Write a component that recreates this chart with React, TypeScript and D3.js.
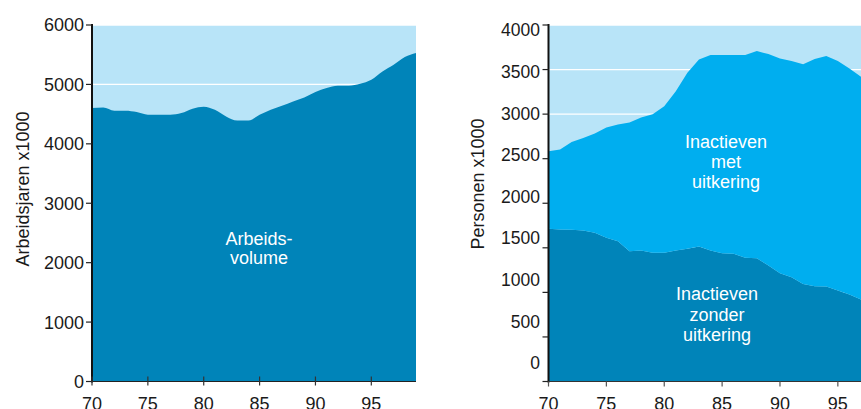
import React from "react";
import * as d3 from "d3";

const W = 861;
const H = 409;

// Left chart: arbeidsvolume (arbeidsjaren x1000), 1970-1999
const yearsLeft = d3.range(70, 100);
const arbeidsvolume = [
  4601, 4610, 4556, 4556, 4534, 4489, 4489, 4489, 4517, 4590,
  4624, 4573, 4461, 4393, 4393, 4489, 4573, 4640, 4713, 4781,
  4871, 4938, 4978, 4978, 5011, 5079, 5219, 5331, 5461, 5528,
];
const leftTicks = [0, 1000, 2000, 3000, 4000, 5000, 6000];
const leftXTicks = [70, 75, 80, 85, 90, 95];

// Right chart: inactieven (personen x1000), 1970-1997
const yearsRight = d3.range(70, 98);
const zonderUitkering = [
  1714, 1706, 1702, 1695, 1669, 1612, 1575, 1462, 1470, 1444,
  1444, 1470, 1489, 1515, 1470, 1440, 1433, 1388, 1384, 1302,
  1215, 1170, 1095, 1069, 1065, 1020, 975, 919,
];
const metUitkering = [
  869, 896, 986, 1038, 1113, 1237, 1308, 1444, 1492, 1556,
  1645, 1788, 1975, 2099, 2193, 2223, 2230, 2275, 2324, 2372,
  2410, 2425, 2466, 2549, 2586, 2575, 2538, 2500,
];
const rightTicks = [0, 500, 1000, 1500, 2000, 2500, 3000, 3500, 4000];
const rightXTicks = [70, 75, 80, 85, 90, 95];

const C_BG = "#b8e4f8";
const C_DARK = "#0084b9";
const C_MID = "#00aeef";
const FONT = "'Liberation Sans', Arial, Helvetica, sans-serif";

export default function App() {
  // Left chart scales
  const xL = d3.scaleLinear().domain([70, 99]).range([92, 416]);
  const yL = d3.scaleLinear().domain([0, 6000]).range([381.5, 25]);
  const areaL = d3
    .area<number>()
    .x((_, i) => xL(yearsLeft[i]))
    .y0(yL(0))
    .y1((d) => yL(d))
    .curve(d3.curveMonotoneX);

  // Right chart scales
  const xR = d3.scaleLinear().domain([70, 97]).range([548.5, 861]);
  const yR = d3.scaleLinear().domain([0, 4000]).range([381.5, 25]);
  const yRLabel = d3.scaleLinear().domain([0, 4000]).range([363, 30]);

  const rows = yearsRight.map((y, i) => ({
    year: y,
    zonder: zonderUitkering[i],
    met: metUitkering[i],
  }));
  const stacked = d3.stack<any>().keys(["zonder", "met"])(rows);
  const areaR = d3
    .area<any>()
    .x((d) => xR(d.data.year))
    .y0((d) => yR(d[0]))
    .y1((d) => yR(d[1]))
    .curve(d3.curveLinear);
  const stackColors = [C_DARK, C_MID];

  return (
    <svg
      width={W}
      height={H}
      style={{ position: "absolute", left: 0, top: 0, display: "block" }}
      fontFamily={FONT}
    >
      {/* LEFT CHART */}
      <rect x={xL(70)} y={yL(6000)} width={xL(99) - xL(70)} height={yL(0) - yL(6000)} fill={C_BG} />
      {leftTicks.map((t) => (
        <line key={"gl" + t} x1={xL(70)} x2={xL(99)} y1={yL(t)} y2={yL(t)} stroke="#fff" strokeWidth={1.3} />
      ))}
      <path d={areaL(arbeidsvolume) || ""} fill={C_DARK} />
      <text x={259} y={245} fontSize={18} fill="#fff" textAnchor="middle">Arbeids-</text>
      <text x={259} y={264} fontSize={18} fill="#fff" textAnchor="middle">volume</text>
      {/* left axes */}
      <line x1={xL(70)} x2={xL(70)} y1={yL(6000) - 1} y2={yL(0) + 1} stroke="#111" strokeWidth={2} />
      <line x1={xL(70)} x2={xL(99)} y1={yL(0)} y2={yL(0)} stroke="#222" strokeWidth={1.2} />
      {leftTicks.map((t) => (
        <g key={"lt" + t}>
          <line x1={xL(70) - 6} x2={xL(70)} y1={yL(t)} y2={yL(t)} stroke="#222" strokeWidth={1.2} />
          <text x={xL(70) - 8} y={yL(t)} dy="0.36em" fontSize={18} fill="#1a1a1a" textAnchor="end">
            {t}
          </text>
        </g>
      ))}
      {leftXTicks.map((t) => (
        <g key={"lx" + t}>
          <line x1={xL(t)} x2={xL(t)} y1={yL(0) - 5} y2={yL(0) + 4} stroke="#333" strokeWidth={1.2} />
          <text x={xL(t)} y={410} fontSize={18} fill="#1a1a1a" textAnchor="middle">
            {t}
          </text>
        </g>
      ))}
      <text
        transform={`translate(29,${189}) rotate(-90)`}
        fontSize={18}
        fill="#1a1a1a"
        textAnchor="middle"
      >
        Arbeidsjaren x1000
      </text>

      {/* RIGHT CHART */}
      <rect x={xR(70)} y={yR(4000)} width={W - xR(70)} height={yR(0) - yR(4000)} fill={C_BG} />
      {rightTicks.map((t) => (
        <line key={"gr" + t} x1={xR(70)} x2={W} y1={yR(t)} y2={yR(t)} stroke="#fff" strokeWidth={1.3} />
      ))}
      {stacked.map((s, i) => (
        <path key={"s" + i} d={areaR(s as any) || ""} fill={stackColors[i]} />
      ))}
      <text x={726} y={148} fontSize={18} fill="#fff" textAnchor="middle">Inactieven</text>
      <text x={726} y={168} fontSize={18} fill="#fff" textAnchor="middle">met</text>
      <text x={726} y={188} fontSize={18} fill="#fff" textAnchor="middle">uitkering</text>
      <text x={717} y={300} fontSize={18} fill="#fff" textAnchor="middle">Inactieven</text>
      <text x={717} y={321} fontSize={18} fill="#fff" textAnchor="middle">zonder</text>
      <text x={717} y={341} fontSize={18} fill="#fff" textAnchor="middle">uitkering</text>
      {/* right axes */}
      <line x1={xR(70)} x2={xR(70)} y1={yR(4000) - 1} y2={yR(0) + 1} stroke="#111" strokeWidth={2} />
      <line x1={xR(70)} x2={W} y1={yR(0)} y2={yR(0)} stroke="#333" strokeWidth={1.2} />
      {rightTicks.map((t) => (
        <g key={"rt" + t}>
          <line x1={xR(70) - 6} x2={xR(70)} y1={yR(t)} y2={yR(t)} stroke="#222" strokeWidth={1.2} />
          <text x={540} y={yRLabel(t)} dy="0.36em" fontSize={17.5} fill="#1a1a1a" textAnchor="end">
            {t}
          </text>
        </g>
      ))}
      {rightXTicks.map((t) => (
        <g key={"rx" + t}>
          <line x1={xR(t)} x2={xR(t)} y1={yR(0)} y2={yR(0) + 5} stroke="#555" strokeWidth={1.2} />
          <text x={xR(t)} y={410} fontSize={18} fill="#1a1a1a" textAnchor="middle">
            {t}
          </text>
        </g>
      ))}
      <text
        transform={`translate(484,${184}) rotate(-90)`}
        fontSize={18}
        fill="#1a1a1a"
        textAnchor="middle"
      >
        Personen x1000
      </text>
    </svg>
  );
}
